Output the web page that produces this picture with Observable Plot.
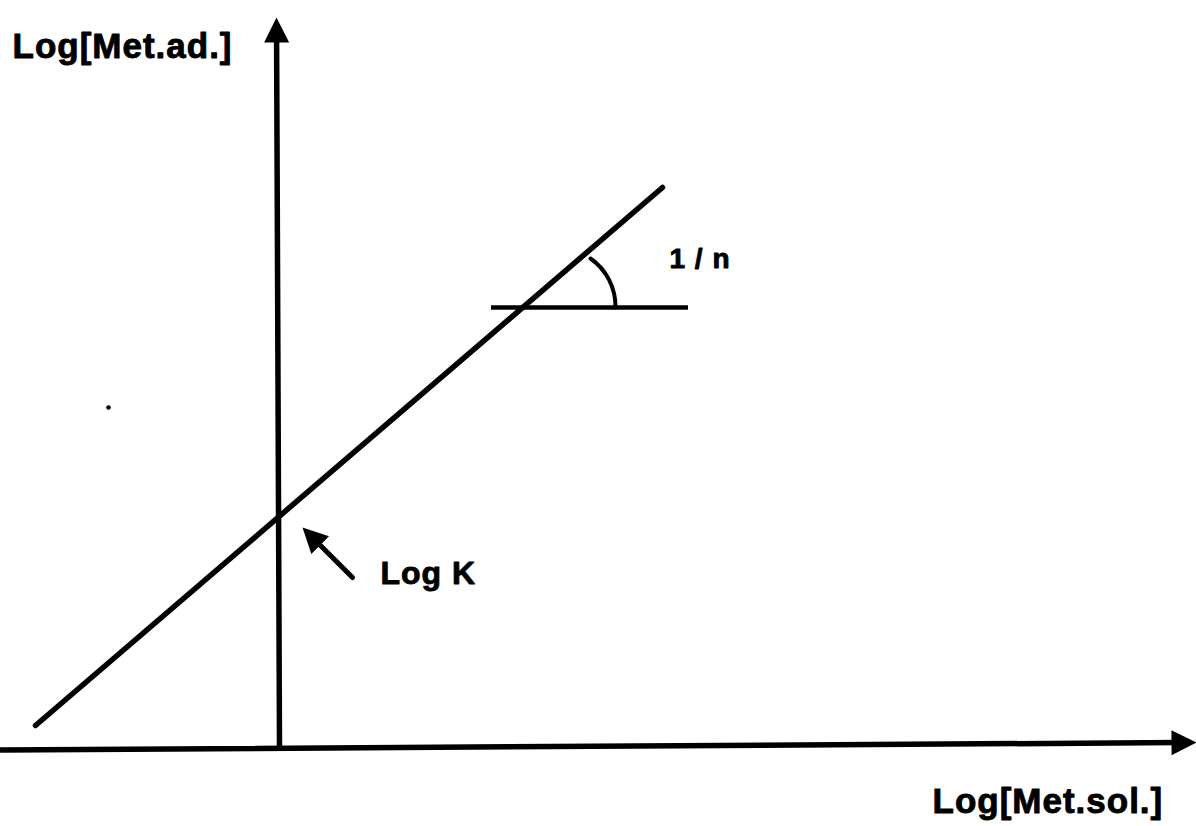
<!DOCTYPE html>
<html><head><meta charset="utf-8">
<script src="https://cdn.jsdelivr.net/npm/d3@7"></script>
<script src="https://cdn.jsdelivr.net/npm/@observablehq/plot@0.6"></script>
<style>
html,body{margin:0;padding:0;background:#fff;}
#chart svg text{letter-spacing:1px;}
</style></head><body><div id="chart"></div>
<script>
// Data units: Log[Met.sol.] (x) and Log[Met.ad.] (y), origin at the axis crossing
const xAxisStart = [-2.78, -0.025];
const xAxisEnd   = [9.18, 0.05];
const yAxisStart = [0.01, 0];
const yAxisEnd   = [-0.02, 7.30];
const isothermX = [-2.43, 3.84];
const isothermY = [0.22, 5.60];
const slopeRefX = [2.13, 4.10];
const slopeRefY = 4.40;
const slopeArcStart = [3.12, 4.89];
const slopeArcEnd   = [3.37, 4.40];
const logKArrowFrom = [0.74, 1.70];
const logKArrowTo   = [0.24, 2.20];
const specks = [[-1.70, 3.40]];
const labelText = ["Log[Met.ad.]", "Log[Met.sol.]", "1 / n", "Log K"];
const labelX = [-2.66, 6.54, 3.91, 1.02];
const labelY = [6.90, -0.65, 4.80, 1.64];

const head = {draw(ctx) { ctx.moveTo(0, 0); ctx.lineTo(-12.5, 25); ctx.lineTo(12.5, 25); ctx.closePath(); }};
const font = "'Liberation Sans', Arial, Helvetica, sans-serif";
const seg = (a, b) => [{x1: a[0], y1: a[1], x2: b[0], y2: b[1]}];
const lbl = i => [{x: labelX[i], y: labelY[i], t: labelText[i]}];
const textOpts = (size) => ({x: "x", y: "y", text: "t", fontSize: size, fontWeight: "bold", fontFamily: font, textAnchor: "start", lineAnchor: "bottom", fill: "black", stroke: "black", strokeWidth: 0.9});

const chart = Plot.plot({
  width: 1196, height: 826, margin: 0,
  style: {fontFamily: font, background: "white"},
  x: {domain: [-2.78, 9.18], axis: null},
  y: {domain: [-0.79, 7.47], axis: null},
  marks: [
    // axes
    Plot.arrow(seg(xAxisStart, xAxisEnd), {x1: "x1", y1: "y1", x2: "x2", y2: "y2", stroke: "black", strokeWidth: 5.5, headLength: 0, insetEnd: 18}),
    Plot.arrow(seg(yAxisStart, yAxisEnd), {x1: "x1", y1: "y1", x2: "x2", y2: "y2", stroke: "black", strokeWidth: 5.5, headLength: 0, insetEnd: 18}),
    Plot.dot([xAxisEnd], {x: d => d[0], y: d => d[1], symbol: head, fill: "black", stroke: "none", rotate: 89.6}),
    Plot.dot([yAxisEnd], {x: d => d[0], y: d => d[1], symbol: head, fill: "black", stroke: "none", rotate: -0.3}),
    // isotherm line
    Plot.line(isothermX.map((x, i) => ({x, y: isothermY[i]})), {x: "x", y: "y", stroke: "black", strokeWidth: 5.5, strokeLinecap: "round"}),
    // slope reference
    Plot.ruleY([slopeRefY], {x1: slopeRefX[0], x2: slopeRefX[1], stroke: "black", strokeWidth: 4.5}),
    Plot.arrow(seg(slopeArcStart, slopeArcEnd), {x1: "x1", y1: "y1", x2: "x2", y2: "y2", bend: 28, headLength: 0, stroke: "black", strokeWidth: 4}),
    // Log K pointer
    Plot.arrow(seg(logKArrowFrom, logKArrowTo), {x1: "x1", y1: "y1", x2: "x2", y2: "y2", stroke: "black", strokeWidth: 5, headLength: 0, insetEnd: 18}),
    Plot.dot([logKArrowTo], {x: d => d[0], y: d => d[1], symbol: head, fill: "black", stroke: "none", rotate: -45}),
    // scan speck
    Plot.dot(specks, {x: d => d[0], y: d => d[1], r: 2.3, fill: "black", stroke: "none"}),
    // labels
    Plot.text(lbl(0), textOpts(35)),
    Plot.text(lbl(1), textOpts(35)),
    Plot.text(lbl(2), textOpts(28)),
    Plot.text(lbl(3), textOpts(32))
  ]
});
document.getElementById("chart").appendChild(chart);
</script></body></html>
